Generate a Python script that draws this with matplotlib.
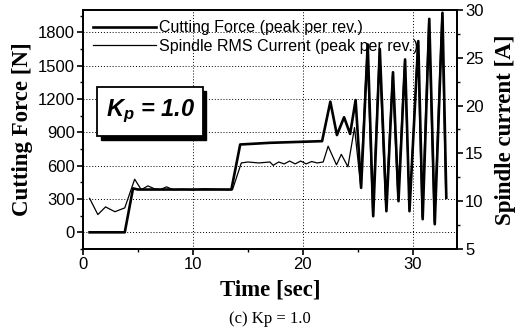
import matplotlib
matplotlib.use("Agg")
import matplotlib.pyplot as plt
from matplotlib.ticker import MultipleLocator
from matplotlib.patches import Rectangle

plt.rcParams['mathtext.fontset'] = 'custom'
plt.rcParams['mathtext.it'] = 'Liberation Sans:italic:bold'
plt.rcParams['mathtext.rm'] = 'Liberation Sans:bold'

# cutting force, peak per rev. [N]
force_t = [0.6, 3.8, 4.55, 5.0, 8.0, 13.5, 14.3, 17.0, 21.75, 22.5, 23.1, 23.75,
           24.3, 24.8, 25.3, 25.9, 26.4, 27.0, 27.6, 28.2, 28.7, 29.3, 29.7,
           30.5, 30.9, 31.5, 32.0, 32.7, 33.05]
force_n = [0, 0, 395, 385, 385, 385, 790, 805, 820, 1175, 875, 1035,
           885, 1190, 400, 1690, 145, 1650, 190, 1440, 280, 1555, 190,
           1720, 118, 1920, 73, 1975, 310]

# spindle RMS current, peak per rev. [A]
current_t = [0.6, 1.35, 2.05, 2.9, 3.8, 4.7, 5.3, 5.9, 6.5, 7.0, 7.6, 8.2, 9.0,
             10.0, 11.0, 12.0, 13.6, 14.4, 15.0, 16.0, 17.0, 17.3, 17.8, 18.3,
             18.8, 19.3, 19.8, 20.3, 20.8, 21.3, 21.85, 22.3, 23.06, 23.5, 24.1,
             24.7, 25.25, 25.85, 26.35, 26.95, 27.55, 28.15, 28.65, 29.25, 29.7,
             30.45, 30.85, 31.45, 31.95, 32.65, 33.0]
current_a = [10.3, 8.6, 9.4, 8.9, 9.3, 12.3, 11.2, 11.6, 11.3, 11.2, 11.5, 11.2, 11.25,
             11.2, 11.3, 11.25, 11.2, 14.0, 14.1, 14.0, 14.1, 13.75, 14.1, 13.9,
             14.2, 13.9, 14.2, 13.9, 14.15, 14.0, 14.1, 15.75, 13.8, 14.9, 13.6,
             17.7, 11.7, 26.0, 8.6, 25.6, 9.1, 23.2, 10.2, 24.6, 9.1,
             26.5, 8.3, 29.0, 7.8, 29.6, 10.5]

fig = plt.figure(figsize=(5.22, 3.32), dpi=100)
ax = fig.add_axes([0.159, 0.25, 0.716, 0.72])
ax2 = ax.twinx()

ax.plot(force_t, force_n, color='black', lw=1.9, label='Cutting Force (peak per rev.)')
ax2.plot(current_t, current_a, color='black', lw=0.9)
ax.plot([], [], color='black', lw=0.9, label='Spindle RMS Current (peak per rev.)')

ax.set_xlim(0, 34)
ax.set_ylim(-150, 2000)
ax2.set_ylim(5, 30)

ax.xaxis.set_major_locator(MultipleLocator(10))
ax.xaxis.set_minor_locator(MultipleLocator(5))
ax.yaxis.set_major_locator(MultipleLocator(300))
ax.yaxis.set_minor_locator(MultipleLocator(150))
ax2.yaxis.set_major_locator(MultipleLocator(5))
ax2.yaxis.set_minor_locator(MultipleLocator(2.5))

ax.grid(True, which='major', color='black', linestyle=(0, (1, 2)), linewidth=0.7)

for a in (ax, ax2):
    a.tick_params(which='major', direction='out', length=4, width=1.2, pad=2)
    a.tick_params(which='minor', direction='out', length=2.5, width=1)
    for lab in a.get_xticklabels() + a.get_yticklabels():
        lab.set_fontfamily('Liberation Sans')
        lab.set_fontsize(12)
    for s in a.spines.values():
        s.set_linewidth(1.3)

label_font = {'family': 'Liberation Serif', 'size': 16.5, 'weight': 'bold'}
ax.set_xlabel('Time [sec]', fontdict=label_font, labelpad=5)
ax.set_ylabel('Cutting Force [N]', fontdict=label_font, labelpad=3)
ax2.set_ylabel('Spindle current [A]', fontdict=label_font, labelpad=8)

leg = ax.legend(loc='upper left', bbox_to_anchor=(0.0, 1.0), frameon=False,
                handlelength=3.9, handletextpad=0.2, labelspacing=0.2,
                borderaxespad=0.25, prop={'family': 'Liberation Sans', 'size': 11.5})

# Kp box with shadow
ax.add_patch(Rectangle((0.047, 0.458), 0.283, 0.205, transform=ax.transAxes,
                       facecolor='black', edgecolor='black', zorder=5))
ax.add_patch(Rectangle((0.038, 0.472), 0.283, 0.205, transform=ax.transAxes,
                       facecolor='white', edgecolor='black', linewidth=1.3, zorder=6))
ax.text(0.18, 0.578, r'$K_p$ = 1.0', transform=ax.transAxes,
        ha='center', va='center', fontsize=17, fontweight='bold', fontstyle='italic',
        family='Liberation Sans', zorder=7)

fig.text(0.517, 0.04, '(c) Kp = 1.0', ha='center', va='center',
         family='Liberation Serif', fontsize=12)

fig.savefig('out.png', dpi=100)
